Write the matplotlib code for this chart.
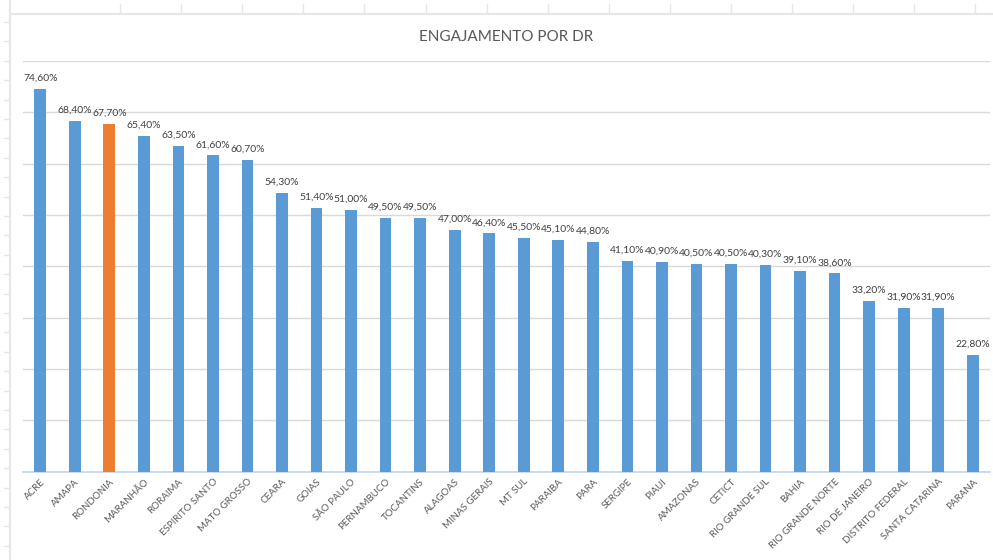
import matplotlib.pyplot as plt
import numpy as np
from matplotlib.lines import Line2D

plt.rcParams['font.family'] = ['Lato', 'DejaVu Sans']

# Data
regions = ["ACRE", "AMAPA", "RONDONIA", "MARANHÃO", "RORAIMA", "ESPIRITO SANTO",
           "MATO GROSSO", "CEARA", "GOIAS", "SÃO PAULO", "PERNAMBUCO", "TOCANTINS",
           "ALAGOAS", "MINAS GERAIS", "MT SUL", "PARAIBA", "PARA", "SERGIPE",
           "PIAUI", "AMAZONAS", "CETICT", "RIO GRANDE SUL", "BAHIA",
           "RIO GRANDE NORTE", "RIO DE JANEIRO", "DISTRITO FEDERAL",
           "SANTA CATARINA", "PARANA"]
engagement = [74.6, 68.4, 67.7, 65.4, 63.5, 61.6, 60.7, 54.3, 51.4, 51.0, 49.5,
              49.5, 47.0, 46.4, 45.5, 45.1, 44.8, 41.1, 40.9, 40.5, 40.5, 40.3,
              39.1, 38.6, 33.2, 31.9, 31.9, 22.8]
highlight = "RONDONIA"

BLUE = "#5B9BD5"
ORANGE = "#ED7D31"

W, H = 993, 560
fig = plt.figure(figsize=(W / 100, H / 100), dpi=100)
ax = fig.add_axes([23 / W, 1 - 471.5 / H, (990 - 23) / W, (471.5 - 61) / H])

x = np.arange(len(regions))
colors = [ORANGE if r == highlight else BLUE for r in regions]
bars = ax.bar(x, engagement, width=0.34, color=colors, zorder=3)

for xi, v in zip(x, engagement):
    ax.text(xi, v + 1.2, f"{v:.2f}%".replace(".", ","), ha="center", va="bottom",
            fontsize=7.5, color="#404040", zorder=4)

ax.set_xlim(-0.5, len(regions) - 0.5)
ax.set_ylim(0, 80)
ax.set_yticks(np.arange(0, 81, 10))
ax.yaxis.grid(True, color="#D9D9D9", linewidth=1, zorder=0)
ax.tick_params(axis="y", left=False, labelleft=False)
ax.tick_params(axis="x", length=0, pad=4)
ax.set_xticks(x)
ax.set_xticklabels(regions, rotation=45, ha="right", rotation_mode="anchor",
                   fontsize=7, color="#595959")
for s in ["top", "right", "left"]:
    ax.spines[s].set_visible(False)
ax.spines["bottom"].set_color("#BDD7EE")
ax.spines["bottom"].set_linewidth(1.2)

fig.text(506 / W, 1 - 37 / H, "ENGAJAMENTO POR DR", ha="center", va="center",
         fontsize=11, color="#595959")

# spreadsheet cell borders behind the chart
grid_c = "#E6E6E6"
fig.add_artist(Line2D([10 / W, 10 / W], [0, 1], color=grid_c, lw=1.5))
fig.add_artist(Line2D([10 / W, 1], [1 - 14 / H, 1 - 14 / H], color=grid_c, lw=1.5))
for py in np.arange(22, H, 19.4):
    fig.add_artist(Line2D([4 / W, 9 / W], [1 - py / H] * 2, color=grid_c, lw=1))
for px in np.arange(120, W, 61.1):
    fig.add_artist(Line2D([px / W] * 2, [1 - 4 / H, 1 - 14 / H], color=grid_c, lw=1))

fig.savefig("out.png", dpi=100, facecolor="white")
